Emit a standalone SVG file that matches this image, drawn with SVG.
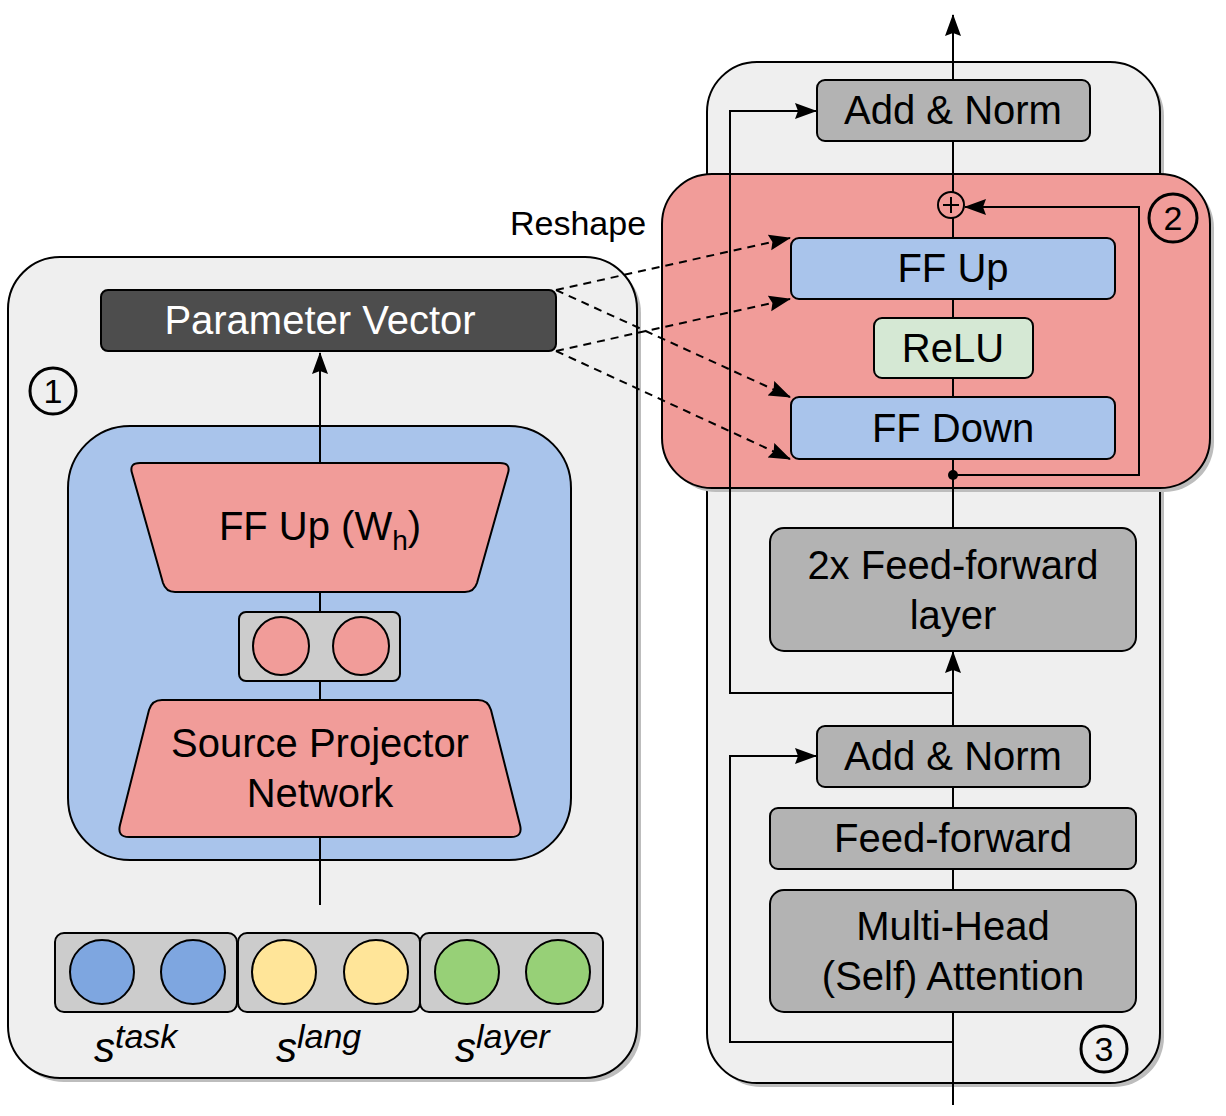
<svg xmlns="http://www.w3.org/2000/svg" width="1226" height="1116" viewBox="0 0 1226 1116">
<defs>
<marker id="ah" markerWidth="22" markerHeight="18" refX="21" refY="9" orient="auto" markerUnits="userSpaceOnUse" viewBox="0 0 22 18">
<path d="M0,1 L22,9 L0,17 L3,9 Z" fill="#000"/>
</marker>
<marker id="ahd" markerWidth="22" markerHeight="18" refX="21" refY="9" orient="auto" markerUnits="userSpaceOnUse" viewBox="0 0 22 18">
<path d="M0,1 L22,9 L0,17 L3,9 Z" fill="#000"/>
</marker>
</defs>
<style>
text{font-family:"Liberation Sans",Arial,sans-serif;fill:#000;}
.lbl{font-size:40px;text-anchor:middle;}
.box{stroke:#000;stroke-width:2;}
.gray{fill:#b3b3b3;}
.lgray{fill:#cccccc;}
.panel{fill:#efefef;stroke:#000;stroke-width:2;}
.shadow{fill:#bdbdbd;}
.blue{fill:#a9c4eb;}
.red{fill:#f19c99;}
.line{stroke:#000;stroke-width:2;fill:none;}
.dash{stroke:#000;stroke-width:2;fill:none;stroke-dasharray:8 6;}
.num{fill:none;stroke:#000;stroke-width:3;}
.numt{font-size:34px;text-anchor:middle;}
.it{font-style:italic;}
</style>

<!-- panels -->
<g id="left-panel">
<rect x="12" y="261" width="629" height="821" rx="52" class="shadow"/>
<rect x="8" y="257" width="629" height="821" rx="52" class="panel"/>
</g>
<g id="right-panel">
<rect x="711" y="66" width="453" height="1021" rx="50" class="shadow"/>
<rect x="707" y="62" width="453" height="1021" rx="50" class="panel"/>
</g>
<g id="adapter-region">
<rect x="666" y="178" width="548" height="314" rx="50" class="shadow"/>
<rect x="662" y="174" width="548" height="314" rx="50" class="red box"/>
</g>

<!-- left nodes -->
<g id="param-vector">
<rect x="101" y="290" width="455" height="61" rx="7" fill="#4d4d4d" class="box"/>
<text x="320" y="334" class="lbl" style="fill:#fff">Parameter Vector</text>
</g>
<g id="label-1">
<circle cx="53" cy="391" r="23" class="num"/>
<text x="53" y="403" class="numt">1</text>
</g>
<g id="hypernet">
<rect x="68" y="426" width="503" height="434" rx="62" class="blue box"/>
</g>
<g id="ff-up-wh">
<path d="M140,463 L500,463 Q511,463 508,473 L477,583 Q474,592 465,592 L175,592 Q166,592 163,583 L132,473 Q129,463 140,463 Z" class="red box"/>
<text x="320" y="540" class="lbl">FF Up (W<tspan font-size="28" dy="10">h</tspan><tspan dy="-10">)</tspan></text>
</g>
<g id="bottleneck">
<rect x="239" y="612" width="161" height="69" rx="7" class="lgray box"/>
<ellipse cx="281" cy="646" rx="28" ry="29" class="red box"/>
<ellipse cx="361" cy="646" rx="28" ry="29" class="red box"/>
</g>
<g id="source-projector">
<path d="M162,700 L478,700 Q488,700 491,710 L520,825 Q523,837 511,837 L129,837 Q117,837 120,825 L149,710 Q152,700 162,700 Z" class="red box"/>
<text x="320" y="757" class="lbl">Source Projector</text>
<text x="320" y="807" class="lbl">Network</text>
</g>
<g id="s-task">
<rect x="55" y="933" width="182" height="79" rx="9" class="lgray box"/>
<ellipse cx="102" cy="972" rx="32" ry="32" fill="#7ea6e0" class="box"/>
<ellipse cx="193" cy="972" rx="32" ry="32" fill="#7ea6e0" class="box"/>
<text x="94" y="1062" class="it" font-size="42">s<tspan font-size="34" dy="-14">task</tspan></text>
</g>
<g id="s-lang">
<rect x="238" y="933" width="182" height="79" rx="9" class="lgray box"/>
<ellipse cx="284" cy="972" rx="32" ry="32" fill="#ffe599" class="box"/>
<ellipse cx="376" cy="972" rx="32" ry="32" fill="#ffe599" class="box"/>
<text x="276" y="1062" class="it" font-size="42">s<tspan font-size="34" dy="-14">lang</tspan></text>
</g>
<g id="s-layer">
<rect x="420" y="933" width="183" height="79" rx="9" class="lgray box"/>
<ellipse cx="467" cy="972" rx="32" ry="32" fill="#97d077" class="box"/>
<ellipse cx="558" cy="972" rx="32" ry="32" fill="#97d077" class="box"/>
<text x="455" y="1062" class="it" font-size="42">s<tspan font-size="34" dy="-14">layer</tspan></text>
</g>
<g id="reshape-label">
<text x="578" y="235" font-size="34" text-anchor="middle">Reshape</text>
</g>

<!-- right nodes -->
<g id="add-norm-top">
<rect x="817" y="80" width="273" height="61" rx="8" class="gray box"/>
<text x="953" y="124" class="lbl">Add &amp; Norm</text>
</g>
<g id="plus">
<circle cx="951" cy="205" r="13" fill="none" class="box"/>
<line x1="943" y1="205" x2="959" y2="205" class="line"/>
<line x1="951" y1="197" x2="951" y2="213" class="line"/>
</g>
<g id="label-2">
<circle cx="1173" cy="218" r="24" class="num"/>
<text x="1173" y="230" class="numt">2</text>
</g>
<g id="ff-up">
<rect x="791" y="238" width="324" height="61" rx="8" class="blue box"/>
<text x="953" y="282" class="lbl">FF Up</text>
</g>
<g id="relu">
<rect x="874" y="318" width="159" height="60" rx="8" fill="#d5e8d4" class="box"/>
<text x="953" y="362" class="lbl">ReLU</text>
</g>
<g id="ff-down">
<rect x="791" y="397" width="324" height="62" rx="8" class="blue box"/>
<text x="953" y="442" class="lbl">FF Down</text>
</g>
<g id="ff-layer">
<rect x="770" y="528" width="366" height="123" rx="14" class="gray box"/>
<text x="953" y="579" class="lbl">2x Feed-forward</text>
<text x="953" y="629" class="lbl">layer</text>
</g>
<g id="add-norm-bottom">
<rect x="817" y="726" width="273" height="61" rx="8" class="gray box"/>
<text x="953" y="770" class="lbl">Add &amp; Norm</text>
</g>
<g id="feed-forward">
<rect x="770" y="808" width="366" height="61" rx="8" class="gray box"/>
<text x="953" y="852" class="lbl">Feed-forward</text>
</g>
<g id="mha">
<rect x="770" y="890" width="366" height="122" rx="14" class="gray box"/>
<text x="953" y="940" class="lbl">Multi-Head</text>
<text x="953" y="990" class="lbl">(Self) Attention</text>
</g>
<g id="label-3">
<circle cx="1104" cy="1049" r="23" class="num"/>
<text x="1104" y="1061" class="numt">3</text>
</g>

<!-- connectors -->
<g id="connectors">
<line x1="320" y1="463" x2="320" y2="353" class="line" marker-end="url(#ah)"/>
<line x1="320" y1="592" x2="320" y2="612" class="line"/>
<line x1="320" y1="681" x2="320" y2="700" class="line"/>
<line x1="320" y1="905" x2="320" y2="837" class="line"/>
<line x1="556" y1="290" x2="790" y2="238" class="dash" marker-end="url(#ahd)"/>
<line x1="556" y1="351" x2="790" y2="299" class="dash" marker-end="url(#ahd)"/>
<line x1="556" y1="290" x2="790" y2="397" class="dash" marker-end="url(#ahd)"/>
<line x1="556" y1="351" x2="790" y2="459" class="dash" marker-end="url(#ahd)"/>
<line x1="953" y1="80" x2="953" y2="15" class="line" marker-end="url(#ah)"/>
<line x1="953" y1="141" x2="953" y2="192" class="line"/>
<line x1="953" y1="218" x2="953" y2="238" class="line"/>
<line x1="953" y1="299" x2="953" y2="318" class="line"/>
<line x1="953" y1="378" x2="953" y2="397" class="line"/>
<line x1="953" y1="459" x2="953" y2="528" class="line"/>
<polyline points="953,475 1139,475 1139,207 965,207" class="line" marker-end="url(#ah)"/>
<circle cx="953" cy="475" r="5" fill="#000"/>
<line x1="953" y1="726" x2="953" y2="652" class="line" marker-end="url(#ah)"/>
<polyline points="953,693 730,693 730,111 816,111" class="line" marker-end="url(#ah)"/>
<line x1="953" y1="787" x2="953" y2="808" class="line"/>
<line x1="953" y1="869" x2="953" y2="890" class="line"/>
<line x1="953" y1="1105" x2="953" y2="1012" class="line"/>
<polyline points="953,1042 730,1042 730,756 816,756" class="line" marker-end="url(#ah)"/>
</g>
</svg>
